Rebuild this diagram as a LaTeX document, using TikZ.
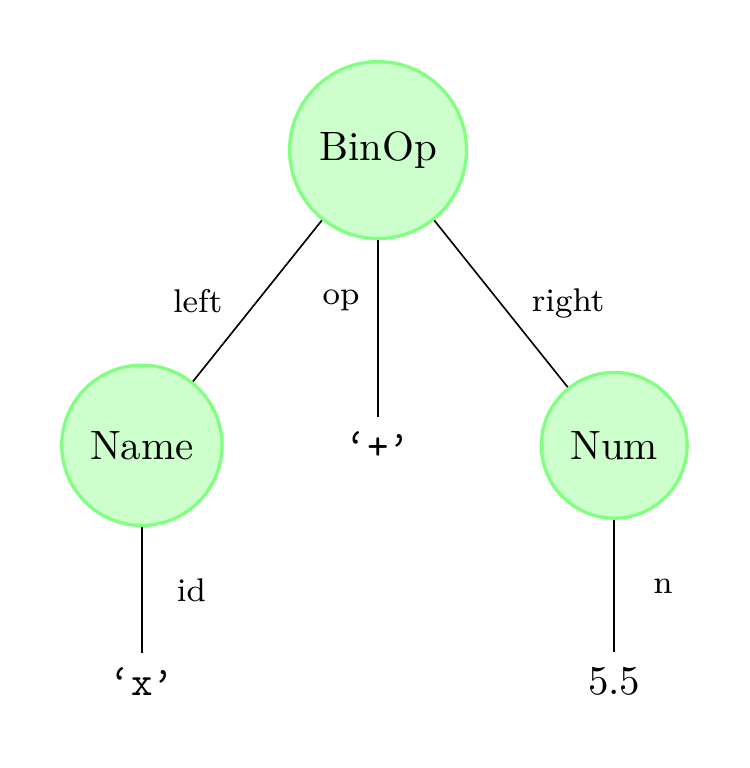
\documentclass[tikz,border=0pt]{standalone}
\usetikzlibrary{positioning}
\begin{document}
\begin{tikzpicture}[
    node distance=72pt and 57.6pt, on grid,
    astnode/.style={circle, draw=green!50, fill=green!20, thick, inner sep=5pt},
    leaf/.style={font=\ttfamily},
    lbl/.style={font=\footnotesize, midway}
  ]
  \useasboundingbox (-92.2pt,36.6pt) rectangle (90.5pt,-150.7pt);
  \node[astnode] (binop) {BinOp};
  \node[astnode, below left=of binop]  (name) {Name};
  \node[leaf,    below=of binop]       (plus) {‘+’};
  \node[astnode, below right=of binop] (num)  {Num};
  \node[leaf,    below=57.5pt of name] (xstr) {‘x’};
  \node[         below=57.5pt of num]  (val)  {5.5};
  \draw (binop) -- (name) node[lbl, left=5pt] {left};
  \draw (binop) -- (plus) node[lbl, pos=.34, left=1pt] {op};
  \draw (binop) -- (num)  node[lbl, right=4pt] {right};
  \draw (name)  -- (xstr) node[lbl, right=5pt] {id};
  \draw (num)   -- (val)  node[lbl, right=6pt] {n};
\end{tikzpicture}
\end{document}
